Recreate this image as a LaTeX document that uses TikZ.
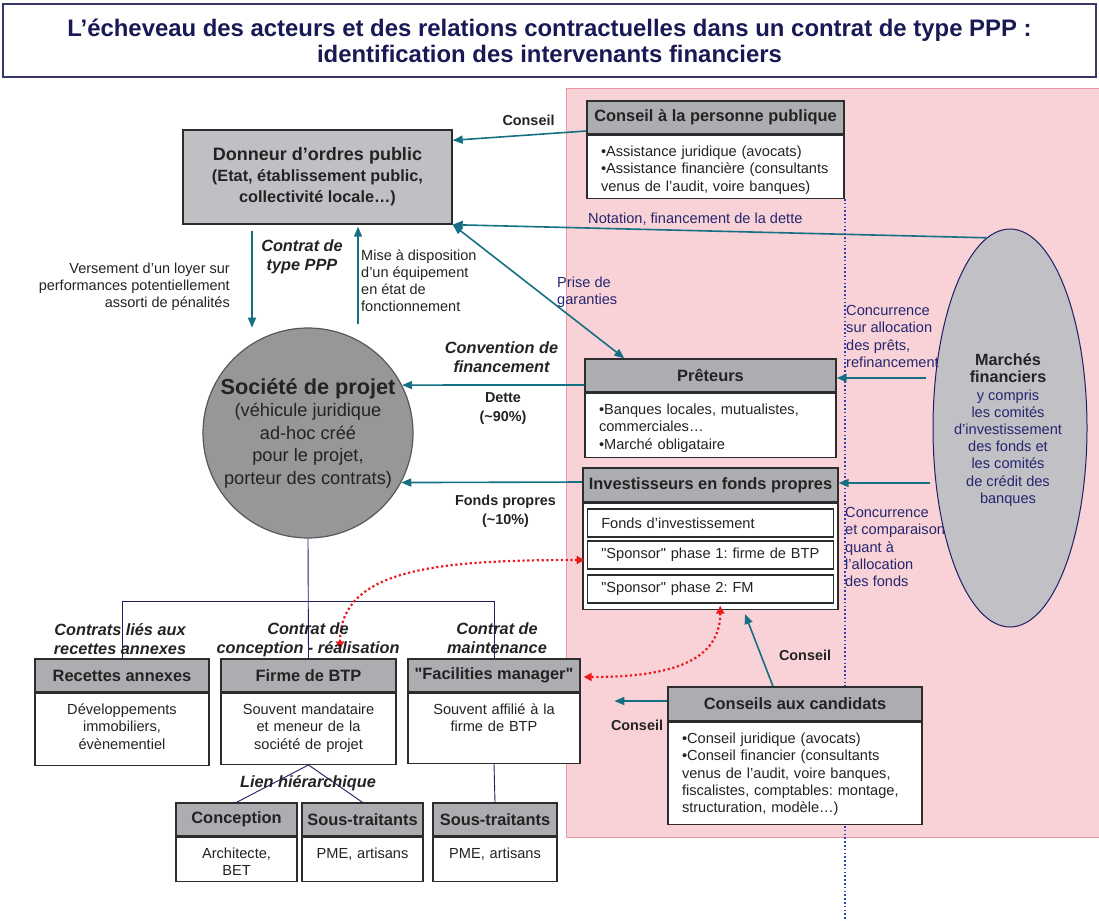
\documentclass[tikz,border=0pt]{standalone}
\usepackage{fontspec}
\setmainfont{Liberation Sans}
\usetikzlibrary{positioning,arrows.meta,shapes.geometric}
\frenchspacing

\definecolor{tealarr}{RGB}{22,112,132}
\definecolor{navy}{RGB}{30,30,100}
\definecolor{navytxt}{RGB}{38,38,112}
\definecolor{hdgray}{RGB}{172,173,177}
\definecolor{lgray}{RGB}{191,192,196}
\definecolor{egray}{RGB}{192,192,197}
\definecolor{cgray}{RGB}{151,151,154}
\definecolor{pinkbg}{RGB}{248,210,214}
\definecolor{pinkline}{RGB}{236,150,160}
\definecolor{boxline}{RGB}{45,45,45}
\definecolor{txt}{RGB}{35,35,35}
\definecolor{reddot}{RGB}{235,25,30}
\definecolor{dotblue}{RGB}{45,65,190}
\definecolor{titleline}{RGB}{55,55,105}
\definecolor{titletxt}{RGB}{25,25,85}

\begin{document}
\begin{tikzpicture}[x=1pt, y=-1pt, >={Triangle[length=10pt,width=8pt]},
    hd/.style={draw=boxline, line width=1.3pt, fill=hdgray, minimum height=33pt,
      inner sep=0pt, text=txt, font=\bfseries\fontsize{16.4}{19}\selectfont},
    bd/.style={draw=boxline, line width=1.3pt, fill=white, inner xsep=14pt,
      inner ysep=10pt, text height=11pt, text=txt,
      font=\fontsize{14.6}{17.4}\selectfont},
    lbd/.style={bd, align=left},
    cbd/.style={bd, inner xsep=4pt, align=center},
    inbox/.style={draw=boxline, line width=1.3pt, fill=white, minimum width=246pt,
      minimum height=28pt, text width=218pt, inner xsep=14pt, inner ysep=0pt,
      align=left, text=txt, font=\fontsize{14.6}{17.4}\selectfont},
    conn/.style={draw=tealarr, line width=1.6pt, ->},
    redarr/.style={draw=reddot, line width=2.2pt, dash pattern=on 2.2pt off 2.6pt,
      >={Triangle[length=8pt,width=8pt]}, <->},
    tree/.style={draw=navy, line width=0.9pt},
    bluedots/.style={draw=dotblue, line width=1.8pt, dash pattern=on 1.6pt off 2.2pt},
    lbl/.style={text=txt, align=center, font=\bfseries\fontsize{14.4}{18.7}\selectfont},
    ilbl/.style={text=txt, align=center,
      font=\bfseries\itshape\fontsize{16.3}{19}\selectfont},
    ntxt/.style={text=navytxt, inner sep=0pt, align=left,
      font=\fontsize{14.6}{17.2}\selectfont},
    ptxt/.style={text=txt, inner sep=0pt, font=\fontsize{14.5}{17}\selectfont}]

  \useasboundingbox (0,0) rectangle (1099,920);
  \fill[white] (0,0) rectangle (1099,920);
  % zone des intervenants financiers
  \draw[draw=pinkline, fill=pinkbg, line width=0.8pt] (566.5,88) rectangle (1101,837);

  \node[draw=titleline, line width=2pt, fill=white, minimum width=1093pt,
    minimum height=73pt, inner sep=0pt, align=center, text=titletxt,
    font=\bfseries\fontsize{23.9}{26}\selectfont] (title) at (549.5,40.5)
    {L’écheveau des acteurs et des relations contractuelles dans un contrat de type PPP :\\
     identification des intervenants financiers};

  % conseil de la personne publique
  \node[hd, minimum width=257pt] (cph) at (715.5,117.5) {Conseil à la personne publique};
  \node[lbd, below=0pt of cph, text width=229pt, text depth=32pt] (cpb)
    {•Assistance juridique (avocats)\\•Assistance financière (consultants\\venus de l’audit, voire banques)};
  \draw[bluedots] (cpb.south east) -- ++(0,723);

  \node[draw=boxline, line width=1.4pt, fill=lgray, minimum width=269pt,
    minimum height=94pt, align=center, text=txt,
    font=\bfseries\fontsize{16.3}{21}\selectfont] (don) at (317.5,177)
    {{\fontsize{18}{21}\selectfont Donneur d’ordres public}\\(Etat, établissement public,\\collectivité locale…)};

  \node[circle, draw=boxline!80, line width=1.2pt, fill=cgray, minimum size=210pt,
    inner sep=0pt, align=center, text=txt,
    font=\fontsize{18.2}{22.5}\selectfont] (soc) at (308,433)
    {{\bfseries\fontsize{21.7}{23}\selectfont Société de projet}\\(véhicule juridique\\ad-hoc créé\\pour le projet,\\porteur des contrats)};

  % financeurs
  \node[hd, minimum width=251pt] (preh) at (710.5,375.5) {Prêteurs};
  \node[lbd, below=0pt of preh, text width=223pt, text depth=33pt] (preb)
    {•Banques locales, mutualistes,\\commerciales…\\•Marché obligataire};
  \node[hd, minimum width=255pt, minimum height=34pt] (invh) at (710.5,485)
    {Investisseurs en fonds propres};
  \node[draw=boxline, line width=1.3pt, fill=white, minimum width=255pt,
    minimum height=106pt, below=0pt of invh] (invb) {};
  \node[inbox] (fi) at (710.25,523) {Fonds d’investissement};
  \node[inbox] (sp1) at (710.25,555) {\mbox{\textquotedbl Sponsor\textquotedbl{} phase 1: firme de BTP}};
  \node[inbox] (sp2) at (710.25,589) {\mbox{\textquotedbl Sponsor\textquotedbl{} phase 2: FM}};

  \node[ellipse, draw=navy, line width=1pt, fill=egray, minimum width=154pt,
    minimum height=398pt, inner sep=0pt] (mf) at (1010,428) {};
  \node[ntxt, align=center] (mftxt) at (1008,430)
    {{\bfseries\color{txt}\fontsize{16.2}{17.5}\selectfont Marchés}\\
     {\bfseries\color{txt}\fontsize{16.2}{17.5}\selectfont financiers}\\
     y compris\\les comités\\d’investissement\\des fonds et\\les comités\\de crédit des\\banques};

  \node[hd, minimum width=254pt, minimum height=34pt] (cch) at (795,704) {Conseils aux candidats};
  \node[lbd, below=0pt of cch, text width=226pt, text depth=71pt] (ccb)
    {•Conseil juridique (avocats)\\•Conseil financier (consultants\\venus de l’audit, voire banques,\\fiscalistes, comptables: montage,\\structuration, modèle…)};

  % contrats de la societe de projet
  \node[hd, minimum width=174pt] (rah) at (122,675.5) {Recettes annexes};
  \node[cbd, below=0pt of rah, text width=166pt, text depth=41pt] (rab)
    {Développements\\immobiliers,\\évènementiel};
  \node[hd, minimum width=175pt] (btph) at (308.5,675.5) {Firme de BTP};
  \node[cbd, below=0pt of btph, text width=167pt, text depth=40pt] (btpb)
    {Souvent mandataire\\et meneur de la\\société de projet};
  \node[hd, minimum width=172pt] (fmh) at (494,675.5) {\textquotedbl Facilities manager\textquotedbl};
  \node[cbd, below=0pt of fmh, text width=164pt, text depth=39pt] (fmb)
    {Souvent affilié à la\\firme de BTP};
  \node[hd, minimum width=121pt] (conh) at (236.5,819.5) {Conception};
  \node[cbd, below=0pt of conh, text width=113pt, text depth=13pt] (conb) {Architecte,\\BET};
  \node[hd, minimum width=121pt] (st1h) at (362.5,819.5) {Sous-traitants};
  \node[cbd, below=0pt of st1h, text width=113pt, text depth=13pt] (st1b) {PME, artisans};
  \node[hd, minimum width=124pt] (st2h) at (495,819.5) {Sous-traitants};
  \node[cbd, below=0pt of st2h, text width=116pt, text depth=13pt] (st2b) {PME, artisans};

  \draw[tree] (soc.south) -- (btph.north);
  \draw[tree] (rah.north) -- ++(0,-57) -| (fmh.north);
  \draw[tree] (btpb.south) -- (conh.north);
  \draw[tree] (btpb.south) -- (st1h.north);
  \draw[tree] (fmb.south) -- (st2h.north);

  % fleches
  \draw[conn] ([yshift=-13.5pt]cph.west) -- ([yshift=-11pt]don.north east);
  \draw[conn] (mf.97) -- (don.south east);
  \draw[conn, <->] (don.south east) -- ([xshift=40pt]preh.north west);
  \draw[conn] ([xshift=-65.5pt,yshift=-6pt]don.south) -- ++(0,97);
  \draw[conn] ([xshift=40.5pt,yshift=-99pt]don.south) -- ([xshift=40.5pt,yshift=-2pt]don.south);
  \draw[conn] ([yshift=-9.5pt]preh.west) -- (soc.27);
  \draw[conn] ([yshift=3pt]invh.west) -- (soc.-28);
  \draw[conn] ([xshift=-7pt,yshift=-2.5pt]preh.east -| mf.west) -- ([yshift=-2.5pt]preh.east);
  \draw[conn] ([xshift=-3pt,yshift=2pt]invh.east -| mf.west) -- ([yshift=2pt]invh.east);
  \draw[conn] ([xshift=-22pt]cch.north) -- ([xshift=34.5pt,yshift=-4pt]invb.south);
  \draw[conn] ([yshift=3pt]cch.west) -- ++(-53,0);
  \draw[redarr] ([xshift=31.5pt,yshift=9pt]btph.north) .. controls +(0,-80) and +(-150,0)
    .. ([xshift=-2pt,yshift=-5pt]sp1.west);
  \draw[redarr] ([xshift=10pt,yshift=-2pt]sp2.south) .. controls +(0,60) and +(77,0)
    .. ([xshift=3pt,yshift=-1.5pt]fmh.east);

  % libelles
  \node[lbl] (lcons1) at (528.5,120) {Conseil};
  \node[ptxt, anchor=east, align=right] (lloyer) at (230,286.5)
    {Versement d’un loyer sur\\performances potentiellement\\assorti de pénalités};
  \node[ilbl] (lppp) at (302,257) {Contrat de\\type PPP};
  \node[ptxt, anchor=west, align=left] (lmise) at (361,281)
    {Mise à disposition\\d’un équipement\\en état de\\fonctionnement};
  \node[ntxt, anchor=west] (lnot) at (588,219) {Notation, financement de la dette};
  \node[ntxt, anchor=west] (lgar) at (557,292) {Prise de\\garanties};
  \node[ilbl] (lconv) at (501.5,357.5) {Convention de\\financement};
  \node[lbl] (ldette) at (503,408.5) {Dette\\(\textasciitilde 90\%)};
  \node[lbl] (lfp) at (505.5,511.5) {Fonds propres\\(\textasciitilde 10\%)};
  \node[ntxt, anchor=west] (lconc1) at (846,336.5)
    {Concurrence\\sur allocation\\des prêts,\\refinancement};
  \node[ntxt, anchor=west] (lconc2) at (845,547)
    {Concurrence\\et comparaison\\quant à\\l’allocation\\des fonds};
  \node[lbl] (lcons2) at (805,655) {Conseil};
  \node[lbl] (lcons3) at (637,725) {Conseil};
  \node[ilbl] (lrec) at (120,639.5) {Contrats liés aux\\recettes annexes};
  \node[ilbl] (lcr) at (308,639.5) {Contrat de\\conception - réalisation};
  \node[ilbl] (lmt) at (497,638.5) {Contrat de\\maintenance};
  \node[ilbl] (lhier) at (308,783) {Lien hiérarchique};
\end{tikzpicture}
\end{document}
